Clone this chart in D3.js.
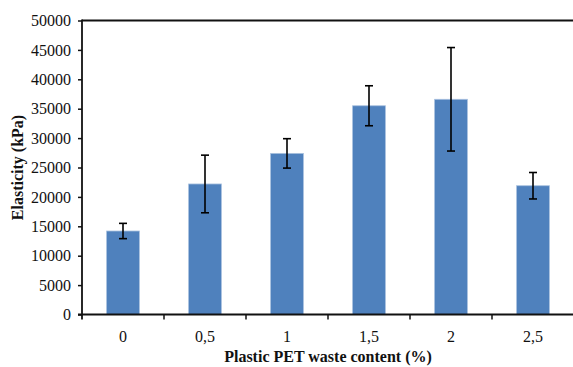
<!DOCTYPE html>
<html>
<head>
<meta charset="utf-8">
<script src="https://cdn.jsdelivr.net/npm/d3@7/dist/d3.min.js"></script>
<style>
  html, body { margin: 0; padding: 0; background: #fff; }
  svg { display: block; }
  text { font-family: "Liberation Serif", "Times New Roman", serif; }
</style>
</head>
<body>
<svg id="chart" width="573" height="367"></svg>
<script>
const categories = ["0", "0,5", "1", "1,5", "2", "2,5"];
const values = [14200, 22200, 27400, 35500, 36600, 21900];
const errors = [1300, 4900, 2500, 3400, 8800, 2250];
const yTicks = [0, 5000, 10000, 15000, 20000, 25000, 30000, 35000, 40000, 45000, 50000];
const xTitle = "Plastic PET waste content (%)";
const yTitle = "Elasticity (kPa)";

(function () {
const svg = d3.select("#chart");
const pl = 82, pr = 574, pt = 20.5, pb = 314.5;

const x = d3.scaleBand().domain(categories).range([pl, pr]).padding(0);
const y = d3.scaleLinear().domain([0, 50000]).range([pb, pt]);
const barW = x.bandwidth() * 0.4;

// top border line
svg.append("line")
  .attr("x1", pl).attr("x2", 573)
  .attr("y1", y(50000)).attr("y2", y(50000))
  .attr("stroke", "#111").attr("stroke-width", 2);

// bars
svg.append("g").selectAll("rect")
  .data(categories)
  .join("rect")
  .attr("x", (d) => x(d) + (x.bandwidth() - barW) / 2)
  .attr("width", barW)
  .attr("y", (d, i) => y(values[i]))
  .attr("height", (d, i) => y(0) - y(values[i]))
  .attr("fill", "#4F81BD")
  .attr("stroke", "#a9c1df")
  .attr("stroke-width", 0.8);

// error bars
const eg = svg.append("g").attr("stroke", "#000").attr("stroke-width", 1.6);
categories.forEach((c, i) => {
  const cx = x(c) + x.bandwidth() / 2;
  const hi = y(values[i] + errors[i]), lo = y(values[i] - errors[i]);
  eg.append("line").attr("x1", cx).attr("x2", cx).attr("y1", hi).attr("y2", lo);
  eg.append("line").attr("x1", cx - 4).attr("x2", cx + 4).attr("y1", hi).attr("y2", hi);
  eg.append("line").attr("x1", cx - 4).attr("x2", cx + 4).attr("y1", lo).attr("y2", lo);
});

// y axis
const yAxis = d3.axisLeft(y).tickValues(yTicks).tickFormat(d3.format("d")).tickSize(4).tickPadding(7);
const yg = svg.append("g").attr("transform", `translate(${pl},0)`).call(yAxis);
yg.select(".domain").remove();
yg.selectAll(".tick line").attr("stroke", "#111").attr("stroke-width", 1.5);
yg.selectAll(".tick text").attr("font-size", 16).attr("fill", "#111")
  .attr("font-family", "Liberation Serif, serif");
svg.append("line").attr("x1", pl).attr("x2", pl).attr("y1", pt - 1).attr("y2", pb + 5)
  .attr("stroke", "#111").attr("stroke-width", 1.8);

// x axis
const xAxis = d3.axisBottom(x).tickSize(0).tickPadding(16);
const xg = svg.append("g").attr("transform", `translate(0,${pb})`).call(xAxis);
xg.select(".domain").remove();
xg.selectAll(".tick text").attr("font-size", 16).attr("fill", "#111")
  .attr("font-family", "Liberation Serif, serif");
svg.append("line").attr("x1", pl - 4).attr("x2", 573).attr("y1", pb).attr("y2", pb)
  .attr("stroke", "#111").attr("stroke-width", 1.8);
// boundary ticks
svg.append("g").selectAll("line")
  .data(categories.slice(1))
  .join("line")
  .attr("x1", (d) => x(d)).attr("x2", (d) => x(d))
  .attr("y1", pb).attr("y2", pb + 5)
  .attr("stroke", "#111").attr("stroke-width", 1.5);

// titles
svg.append("text")
  .attr("x", 328).attr("y", 362)
  .attr("text-anchor", "middle")
  .attr("font-size", 16).attr("font-weight", "bold").attr("fill", "#111")
  .text(xTitle);

svg.append("text")
  .attr("transform", `translate(23,${(pt + pb) / 2}) rotate(-90)`)
  .attr("text-anchor", "middle")
  .attr("font-size", 16).attr("font-weight", "bold").attr("fill", "#111")
  .text(yTitle);
})();
</script>
</body>
</html>
